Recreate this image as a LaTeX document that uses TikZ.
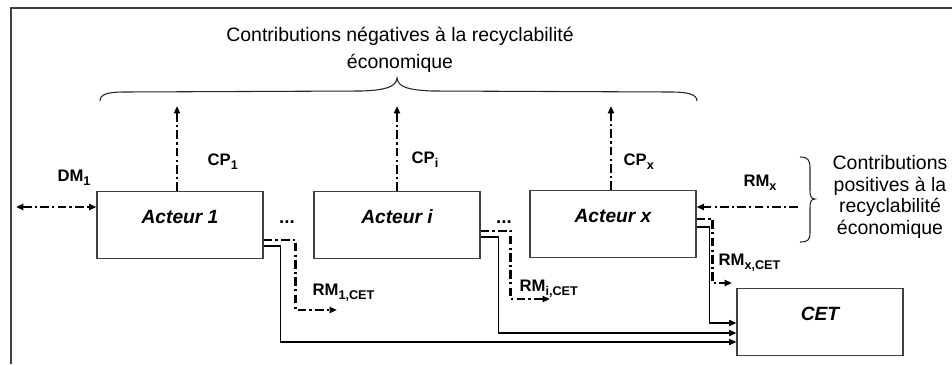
\documentclass[tikz,border=0pt]{standalone}
\usepackage{fontspec}
\setmainfont{Liberation Sans}
\usetikzlibrary{arrows.meta,calc}
\newcommand\mysub[1]{\raisebox{-0.45ex}{\fontsize{9.5}{9.5}\selectfont\bfseries #1}}
\begin{document}
\begin{tikzpicture}[x=0.75pt,y=-0.75pt,
  box/.style={draw=black!75,line width=0.8pt,minimum width=124.5pt,minimum height=50pt,inner sep=0pt,
    font=\fontsize{14.4}{16}\selectfont\bfseries\itshape,text height=10.5pt,text depth=12.1pt},
  cetbox/.style={text height=10.5pt,text depth=13pt},
  lab/.style={font=\fontsize{12.5}{14}\selectfont\bfseries,inner sep=1pt},
  bigtxt/.style={align=center,inner sep=0pt},
  frame/.style={draw=black!75,line width=0.8pt},
  dd/.style={line width=1.7pt,dash pattern=on 6.5pt off 2.4pt on 1.7pt off 2.4pt},
  sl/.style={line width=1.2pt},
  tip/.style={-{Triangle[length=5.5pt,width=4.5pt]}},
  tips/.style={{Triangle[length=5.5pt,width=4.5pt]}-{Triangle[length=5.5pt,width=4.5pt]}},
  brc/.style={line width=0.8pt,draw=black!85}]
\useasboundingbox (0,0) rectangle (952,364);
% frame
\draw[frame] (11,364) -- (11,8) -- (952,8);
% boxes
\node[box] (a1) at (180,225) {Acteur 1};
\node[box] (ai) at (397,225) {Acteur i};
\node[box] (ax) at (613,224) {Acteur x};
\node[box,cetbox] (cet) at (820,322) {CET};
% top text and brace
\node[bigtxt,font=\fontsize{14.6}{20}\selectfont] (neg) at (400,50) {Contributions négatives à la recyclabilité\\économique};
\draw[brc] (100,101) .. controls (100,94) and (108,92) .. (125,92) -- (362,91)
  .. controls (386,90) and (396,87) .. (397,78)
  .. controls (398,87) and (408,90) .. (432,91) -- (670,92)
  .. controls (687,92) and (697,94) .. (697,101);
% right text and brace
\node[bigtxt,font=\fontsize{14.6}{16.3}\selectfont] (pos) at (890,197) {Contributions\\positives à la\\recyclabilité\\économique};
\draw[brc] (800,157) .. controls (808,157) and (810,160) .. (810,168) -- (810,190)
  .. controls (810,196) and (811,199) .. (815,199)
  .. controls (811,199) and (810,202) .. (810,208) -- (810,232)
  .. controls (810,240) and (808,242) .. (800,242);
% CP arrows
\coordinate (cp1) at (177,106);
\coordinate (cpi) at (397,106);
\coordinate (cpx) at (611,106);
\draw[dd,tip] (a1.north -| cp1) -- (cp1);
\draw[dd,tip] (ai.north -| cpi) -- (cpi);
\draw[dd,tip] (ax.north -| cpx) -- (cpx);
\node[lab,anchor=west] (lcp1) at (206,162) {CP\mysub{1}};
\node[lab,anchor=west] (lcpi) at (410,160) {CP\mysub{i}};
\node[lab,anchor=west] (lcpx) at (622,162) {CP\mysub{x}};
% DM and RMx
\coordinate (dm) at (16,207);
\draw[dd,tips] (dm) -- (dm -| a1.west);
\node[lab] (ldm) at (74,178) {DM\mysub{1}};
\coordinate (rmx) at (798,207);
\draw[dd,tip] (rmx) -- (rmx -| ax.east);
\node[lab] (lrmx) at (760,183) {RM\mysub{x}};
% dots
\node[lab,font=\fontsize{14}{14}\selectfont\bfseries] (d1) at (287,222) {...};
\node[lab,font=\fontsize{14}{14}\selectfont\bfseries] (d2) at (504,222) {...};
% RM to CET (dash-dot)
\coordinate (r1) at (337,310);
\coordinate (ri) at (550,299);
\coordinate (rx) at (732,283);
\draw[dd,tip] ($(a1.east)+(0,15)$) -- ++(32,0) |- (r1);
\draw[dd,tip] ($(ai.east)+(0,6)$) -- ++(30,0) |- (ri);
\draw[dd,tip] ($(ax.east)+(0,-5)$) -- ++(16,0) |- (rx);
\node[lab,anchor=west] (lr1) at (311,293) {RM\mysub{1,CET}};
\node[lab,anchor=west] (lri) at (518,289) {RM\mysub{i,CET}};
\node[lab,anchor=west] (lrx) at (717,263) {RM\mysub{x,CET}};
% solid flows to CET
\draw[sl,tip] ($(a1.east)+(0,21)$) -- ++(17,0) |- ($(cet.west)+(0,20)$);
\draw[sl,tip] ($(ai.east)+(0,12)$) -- ++(18,0) |- ($(cet.west)+(0,11)$);
\draw[sl,tip] ($(ax.east)+(0,3)$) -- ++(13,0) |- ($(cet.west)+(0,1)$);
\end{tikzpicture}
\end{document}
